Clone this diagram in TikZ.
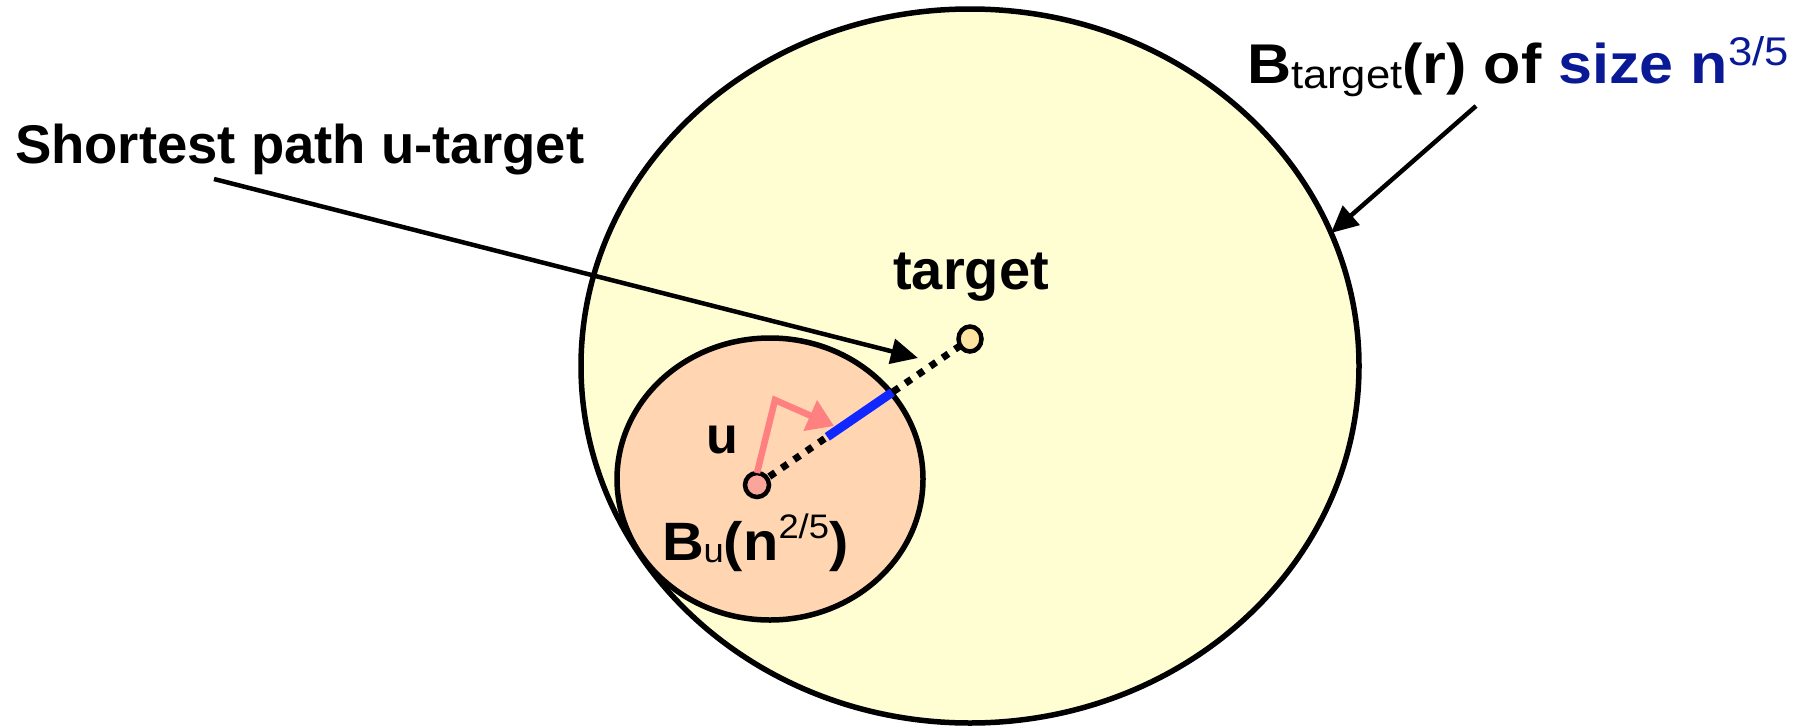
\documentclass[tikz,border=0pt]{standalone}
\usepackage{fontspec}
\setmainfont{Liberation Sans}
\usetikzlibrary{arrows.meta,shapes.geometric,calc}
\definecolor{bigfill}{RGB}{255,253,210}
\definecolor{smallfill}{RGB}{255,213,178}
\definecolor{ufill}{RGB}{250,165,155}
\definecolor{tfill}{RGB}{255,227,160}
\definecolor{pathred}{RGB}{255,128,128}
\definecolor{pathblue}{RGB}{16,40,255}
\definecolor{navyblue}{RGB}{10,25,150}
\newcommand\lowtext[3]{\raisebox{#1}{\mdseries\fontsize{#2}{#2}\selectfont #3}}
\tikzset{
  outline/.style={draw=black, line width=5.5pt},
  ball/.style={ellipse, outline, inner sep=0pt, outer sep=0pt},
  vertex/.style={ellipse, draw=black, line width=4.5pt, inner sep=0pt, outer sep=0pt},
  dotpath/.style={line width=7pt, dash pattern=on 7pt off 8pt},
  pointer/.style={line width=4.5pt, -{Triangle[length=27pt,width=25pt]}},
  lbl/.style={font=\bfseries\fontsize{56}{64}\selectfont, inner sep=0pt, outer sep=0pt},
}
\begin{document}
\begin{tikzpicture}[x=1pt,y=-1pt]
\useasboundingbox (0,0) rectangle (1815,726);
% balls
\node[ball, fill=bigfill, minimum width=778pt, minimum height=714pt] (big) at (970,366) {};
\node[ball, fill=smallfill, minimum width=306pt, minimum height=282pt] (small) at (770,479) {};
% vertices positions
\coordinate (uc) at (757,485);
\coordinate (tc) at (970,339);
% dotted shortest path
\draw[dotpath] (uc) -- (tc);
\draw[pathblue, line width=9pt] ($(uc)!0.33!(tc)$) -- ($(uc)!0.635!(tc)$);
% vertices
\node[vertex, fill=ufill, minimum width=24pt, minimum height=24pt] (u) at (uc) {};
\node[vertex, fill=tfill, minimum width=23pt, minimum height=25pt] (t) at (tc) {};
% red walk
\coordinate (rc) at (775,400);
\coordinate (rt) at (834,426);
\draw[pathred, line width=6.5pt, -{Triangle[length=26pt,width=32pt]}] (u.north) -- (rc) -- (rt);
% labels
\node[lbl, font=\bfseries\fontsize{54.5}{62}\selectfont, anchor=base west] (sp) at (15,163) {Shortest path u-target};
\node[lbl, anchor=base west, xscale=1.09] (bl) at (1247,83) {B\lowtext{-5pt}{40}{target}(r) of \textcolor{navyblue}{size n\lowtext{18pt}{40}{3/5}}};
\node[lbl, anchor=base] (tl) at (971,289) {target};
\node[lbl, font=\bfseries\fontsize{52}{60}\selectfont, anchor=base] (ul) at (722,453) {u};
\node[lbl, font=\bfseries\fontsize{54}{60}\selectfont, anchor=base west, xscale=1.07] (bul) at (662,560) {B\lowtext{-2pt}{34}{u}(n\lowtext{22pt}{34}{2/5})};
% pointers
\coordinate (spS) at (214,179);
\coordinate (spT) at (918,358);
\draw[pointer] (spS) -- (spT);
\coordinate (blS) at (1476,106);
\coordinate (blT) at (1331,233);
\draw[pointer] (blS) -- (blT);
\end{tikzpicture}
\end{document}
